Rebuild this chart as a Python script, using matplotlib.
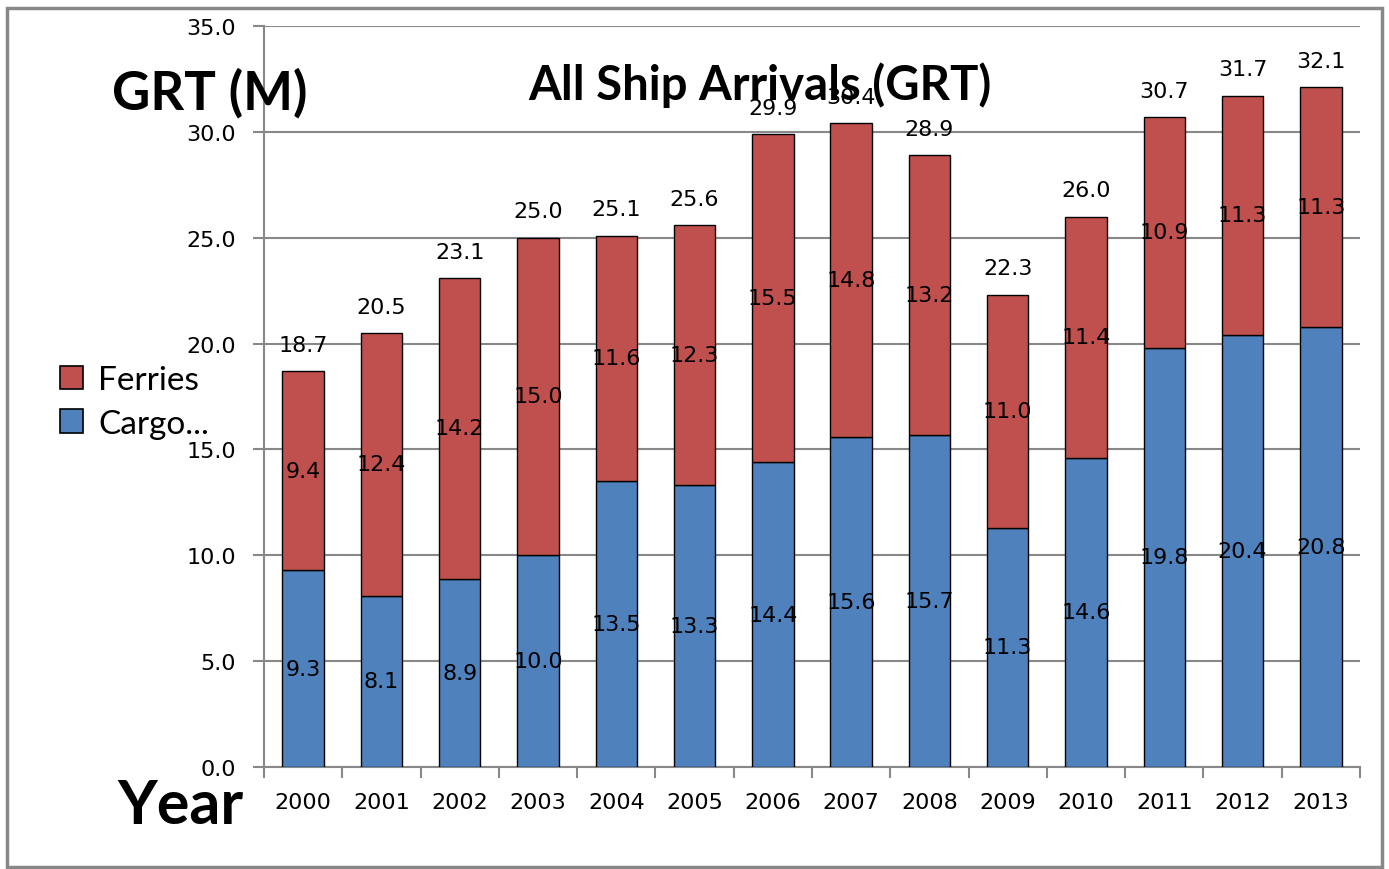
import matplotlib
matplotlib.use("Agg")
import matplotlib.pyplot as plt
from matplotlib.patches import Rectangle, Patch
import numpy as np

years = ["2000", "2001", "2002", "2003", "2004", "2005", "2006",
         "2007", "2008", "2009", "2010", "2011", "2012", "2013"]
cargo = [9.3, 8.1, 8.9, 10.0, 13.5, 13.3, 14.4, 15.6, 15.7, 11.3, 14.6, 19.8, 20.4, 20.8]
ferries = [9.4, 12.4, 14.2, 15.0, 11.6, 12.3, 15.5, 14.8, 13.2, 11.0, 11.4, 10.9, 11.3, 11.3]
totals = [18.7, 20.5, 23.1, 25.0, 25.1, 25.6, 29.9, 30.4, 28.9, 22.3, 26.0, 30.7, 31.7, 32.1]
yticks = [0, 5, 10, 15, 20, 25, 30, 35]

BLUE = "#4F81BD"
RED = "#C0504D"
GREY = "#888888"

fig = plt.figure(figsize=(13.89, 8.70), dpi=100)
ax = fig.add_axes([264/1389, 1-768/870, (1360-264)/1389, (768-27)/870])

x = np.arange(len(years))
w = 0.53
ax.bar(x, cargo, w, color=BLUE, edgecolor="black", linewidth=1.0, zorder=3)
ax.bar(x, ferries, w, bottom=cargo, color=RED, edgecolor="black", linewidth=1.0, zorder=3)

lblfont = dict(fontsize=16, family="DejaVu Sans", color="black")
for i in range(len(years)):
    ax.text(x[i], cargo[i]/2, f"{cargo[i]:.1f}", ha="center", va="center", zorder=5, **lblfont)
    ax.text(x[i], cargo[i] + ferries[i]/2, f"{ferries[i]:.1f}", ha="center", va="center", zorder=5, **lblfont)
    ax.annotate(f"{totals[i]:.1f}", (x[i], totals[i]), xytext=(0, 19),
                textcoords="offset points", ha="center", va="center", zorder=5, **lblfont)

ax.set_xlim(-0.5, len(years) - 0.5)
ax.set_ylim(0, 35)
ax.set_yticks(yticks)
ax.set_yticklabels([f"{v:.1f}" for v in yticks], fontsize=16, family="DejaVu Sans")
ax.yaxis.grid(True, color=GREY, linewidth=1.5, zorder=0)
ax.set_axisbelow(True)

ax.set_xticks(x)
ax.set_xticklabels(years, fontsize=16, family="DejaVu Sans")
ax.tick_params(axis="x", which="major", length=0, pad=18)
ax.set_xticks(np.arange(-0.5, len(years)), minor=True)
ax.tick_params(axis="x", which="minor", length=8, width=1.5, color=GREY, direction="out")
ax.tick_params(axis="y", length=8, width=1.5, color=GREY, pad=12)

for s in ["top", "right"]:
    ax.spines[s].set_visible(False)
for s in ["left", "bottom"]:
    ax.spines[s].set_color(GREY)
    ax.spines[s].set_linewidth(1.5)

fig.text(760/1389, 1-85/870, "All Ship Arrivals (GRT)", ha="center", va="center",
         fontsize=34, fontweight="bold", family="Lato", zorder=10)
fig.text(210/1389, 1-93/870, "GRT (M)", ha="center", va="center",
         fontsize=38, fontweight="bold", family="Lato")
fig.text(180/1389, 1-806/870, "Year", ha="center", va="center",
         fontsize=44, fontweight="bold", family="Lato")

handles = [Patch(facecolor=RED, edgecolor="black", linewidth=1.2),
           Patch(facecolor=BLUE, edgecolor="black", linewidth=1.2)]
fig.legend(handles, ["Ferries", "Cargo..."], loc="center left",
           bbox_to_anchor=(30/1389, 1-403/870), frameon=False,
           prop=dict(family="Lato", size=24), handlelength=0.7, handleheight=0.7,
           handletextpad=0.45, labelspacing=0.4)

fig.patches.append(Rectangle((7/1389, 2/870), (1382-7)/1389, (861-2)/870,
                             transform=fig.transFigure, fill=False,
                             edgecolor=GREY, linewidth=2.5))

fig.savefig("out.png", dpi=100)
